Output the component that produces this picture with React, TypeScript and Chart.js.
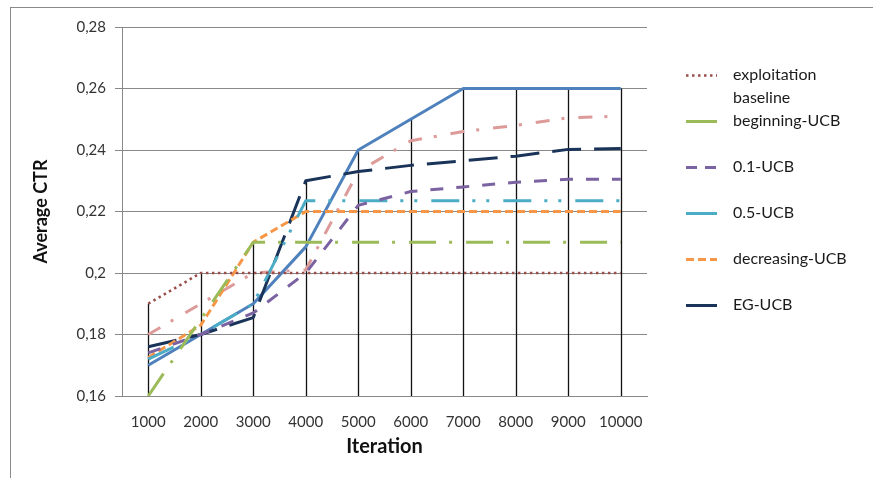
import React, { useEffect, useRef } from 'react';
import { Chart, registerables } from 'chart.js';

Chart.register(...registerables);

// ---- data ----
const iterations = ['1000', '2000', '3000', '4000', '5000', '6000', '7000', '8000', '9000', '10000'];

const exploitationBaseline = [0.19, 0.2, 0.2, 0.2, 0.2, 0.2, 0.2, 0.2, 0.2, 0.2];
const beginningUCB = [0.16, 0.185, 0.21, 0.21, 0.21, 0.21, 0.21, 0.21, 0.21, 0.21];
const ucb01 = [0.174, 0.18, 0.187, 0.2, 0.222, 0.2265, 0.228, 0.2295, 0.2305, 0.2305];
const ucb05 = [0.172, 0.18, 0.19, 0.2235, 0.2235, 0.2235, 0.2235, 0.2235, 0.2235, 0.2235];
const decreasingUCB = [0.1725, 0.183, 0.21, 0.22, 0.22, 0.22, 0.22, 0.22, 0.22, 0.22];
const egUCB = [0.176, 0.18, 0.1855, 0.23, 0.233, 0.235, 0.2365, 0.238, 0.2402, 0.2405];
const unlabeledSolid = [0.17, 0.18, 0.19, 0.2085, 0.24, 0.25, 0.26, 0.26, 0.26, 0.26];
const unlabeledDashDot = [0.18, 0.19, 0.2, 0.201, 0.233, 0.243, 0.246, 0.248, 0.2505, 0.251];

const yMin = 0.16;
const yMax = 0.28;
const yStep = 0.02;

const legendLabels = [
  ['exploitation', 'baseline'],
  ['beginning-UCB'],
  ['0.1-UCB'],
  ['0.5-UCB'],
  ['decreasing-UCB'],
  ['EG-UCB'],
];

const FONT = 'Lato, "Open Sans", sans-serif';

const seriesDefs = [
  { label: 'exploitation baseline', data: exploitationBaseline, color: '#9b4f4c', dash: [2.5, 3.5], width: 2.6, legendDash: [2.5, 3.5], inLegend: true },
  { label: 'beginning-UCB', data: beginningUCB, color: '#9bbb59', dash: [27, 13, 3, 14], width: 3, legendDash: [], inLegend: true },
  { label: '0.1-UCB', data: ucb01, color: '#7b62a0', dash: [13, 13], width: 3, legendDash: [11, 8], inLegend: true },
  { label: '0.5-UCB', data: ucb05, color: '#4bacc6', dash: [28, 13, 3, 11, 3, 14], width: 3, legendDash: [], inLegend: true },
  { label: 'decreasing-UCB', data: decreasingUCB, color: '#f79646', dash: [8, 4], width: 3, legendDash: [8, 4], inLegend: true },
  { label: 'EG-UCB', data: egUCB, color: '#1a3358', dash: [29, 13], width: 3, legendDash: [], inLegend: true },
  { label: '', data: unlabeledDashDot, color: '#dc9a98', dash: [14, 12, 3, 14], width: 3, legendDash: [], inLegend: false },
  { label: '', data: unlabeledSolid, color: '#4f81bd', dash: [], width: 3, legendDash: [], inLegend: false },
];

const dropLinesPlugin = {
  id: 'dropLines',
  beforeDatasetsDraw(chart: any) {
    const { ctx, scales } = chart;
    const x = scales.x;
    const y = scales.y;
    ctx.save();
    ctx.strokeStyle = '#111';
    ctx.lineWidth = 1.3;
    ctx.setLineDash([]);
    for (let i = 0; i < iterations.length; i++) {
      let m = -Infinity;
      chart.data.datasets.forEach((ds: any) => {
        m = Math.max(m, ds.data[i]);
      });
      const px = Math.round(x.getPixelForValue(i)) + 0.5;
      ctx.beginPath();
      ctx.moveTo(px, y.getPixelForValue(m));
      ctx.lineTo(px, y.getPixelForValue(yMin));
      ctx.stroke();
    }
    ctx.restore();
  },
};

const customLegendPlugin = {
  id: 'customLegend',
  afterDraw(chart: any) {
    const { ctx } = chart;
    const symX0 = 686;
    const symX1 = 717;
    const textX = 733;
    const firstY = 75;
    const rowGap = 46;
    const lineGap = 23;
    ctx.save();
    ctx.font = `16px ${FONT}`;
    ctx.fillStyle = '#1a1a1a';
    ctx.textBaseline = 'middle';
    ctx.textAlign = 'left';
    const legendSeries = seriesDefs.filter((s) => s.inLegend);
    legendSeries.forEach((s, k) => {
      const y = firstY + rowGap * k;
      ctx.beginPath();
      ctx.strokeStyle = s.color;
      ctx.lineWidth = s.width;
      ctx.setLineDash(s.legendDash);
      ctx.moveTo(symX0, y + 0.5);
      ctx.lineTo(symX1, y + 0.5);
      ctx.stroke();
      ctx.setLineDash([]);
      legendLabels[k].forEach((line, j) => {
        ctx.fillText(line, textX, y + j * lineGap);
      });
    });
    ctx.restore();
  },
};

export default function App() {
  const canvasRef = useRef<HTMLCanvasElement>(null);

  useEffect(() => {
    const canvas = canvasRef.current;
    if (!canvas) return;
    const chart = new Chart(canvas, {
      type: 'line',
      data: {
        labels: iterations,
        datasets: seriesDefs.map((s) => ({
          label: s.label,
          data: s.data,
          borderColor: s.color,
          backgroundColor: s.color,
          borderWidth: s.width,
          borderDash: s.dash,
          borderCapStyle: 'butt',
          borderJoinStyle: 'round',
          pointRadius: 0,
          pointHoverRadius: 0,
          tension: 0,
          fill: false,
        })),
      },
      options: {
        responsive: false,
        animation: false,
        devicePixelRatio: 1,
        layout: { padding: { left: 0, right: 226, top: 27, bottom: 0 } },
        plugins: {
          legend: { display: false },
          tooltip: { enabled: false },
        },
        scales: {
          x: {
            type: 'category',
            offset: true,
            grid: { display: false },
            border: { display: true, color: '#888888', width: 1 },
            ticks: {
              color: '#333333',
              font: { family: FONT, size: 15 },
              padding: 9,
              maxRotation: 0,
              autoSkip: false,
            },
            title: {
              display: true,
              text: 'Iteration',
              color: '#111111',
              font: { family: FONT, size: 20, weight: 'bold' },
              padding: { top: 0, bottom: 19 },
            },
            afterFit: (s: any) => {
              s.height = 82;
            },
          },
          y: {
            min: yMin,
            max: yMax,
            grid: { color: '#888888', lineWidth: 1, tickLength: 7, drawTicks: true },
            border: { display: true, color: '#888888', width: 1 },
            ticks: {
              stepSize: yStep,
              color: '#333333',
              font: { family: FONT, size: 15 },
              padding: 9,
              callback: (v: any) => String(Math.round(Number(v) * 100) / 100).replace('.', ','),
            },
            title: {
              display: true,
              text: 'Average CTR',
              color: '#111111',
              font: { family: FONT, size: 18, weight: 'bold' },
              padding: { top: 30, bottom: 0 },
            },
            afterFit: (s: any) => {
              s.width = 122;
            },
          },
        },
      },
      plugins: [dropLinesPlugin, customLegendPlugin],
    } as any);
    return () => chart.destroy();
  }, []);

  return (
    <div style={{ position: 'absolute', left: 0, top: 0, width: 873, height: 478, background: '#ffffff', overflow: 'hidden' }}>
      <div
        style={{
          position: 'absolute',
          left: 10,
          top: 7,
          width: 880,
          height: 490,
          borderTop: '1px solid #8a8a8a',
          borderLeft: '1px solid #8a8a8a',
        }}
      />
      <canvas ref={canvasRef} width={873} height={478} style={{ position: 'absolute', left: 0, top: 0, width: 873, height: 478 }} />
    </div>
  );
}
